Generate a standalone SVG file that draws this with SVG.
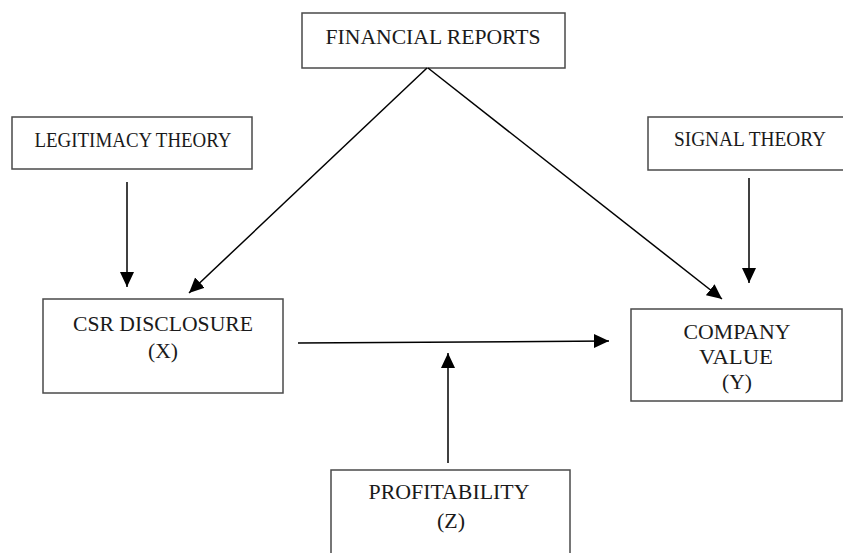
<svg xmlns="http://www.w3.org/2000/svg" width="843" height="553" viewBox="0 0 843 553">
<style>
.box{fill:#fff;stroke:#4a4a4a;stroke-width:1.5}
.t{font-family:"Liberation Serif","Times New Roman",serif;font-size:22px;fill:#1a1a1a;text-anchor:middle}
.c{stroke:#000;stroke-width:1.5;fill:none;marker-end:url(#ah)}
</style>
<defs>
<marker id="ah" markerUnits="userSpaceOnUse" markerWidth="16" markerHeight="15" refX="15" refY="7" orient="auto">
<path d="M0,0 L15,7 L0,14 z" fill="#000"/>
</marker>
</defs>
<rect width="843" height="553" fill="#fff"/>
<g id="financial-reports">
<rect class="box" x="302" y="13" width="263" height="55"/>
<text class="t" x="433" y="44" textLength="215" lengthAdjust="spacingAndGlyphs">FINANCIAL REPORTS</text>
</g>
<g id="legitimacy-theory">
<rect class="box" x="12" y="117" width="240" height="52"/>
<text class="t" x="133" y="147" textLength="197" lengthAdjust="spacingAndGlyphs">LEGITIMACY THEORY</text>
</g>
<g id="signal-theory">
<rect class="box" x="648" y="117" width="196" height="53"/>
<text class="t" transform="translate(750,146) scale(0.88,1)" x="0" y="0">SIGNAL THEORY</text>
</g>
<g id="csr-disclosure">
<rect class="box" x="43" y="299" width="240" height="94"/>
<text class="t" x="163" y="331" textLength="180" lengthAdjust="spacingAndGlyphs">CSR DISCLOSURE</text>
<text class="t" x="163" y="358" textLength="30" lengthAdjust="spacingAndGlyphs">(X)</text>
</g>
<g id="company-value">
<rect class="box" x="631" y="309" width="211" height="92"/>
<text class="t" x="737" y="339" textLength="107" lengthAdjust="spacingAndGlyphs">COMPANY</text>
<text class="t" x="736" y="364" textLength="74" lengthAdjust="spacingAndGlyphs">VALUE</text>
<text class="t" x="737" y="389" textLength="30" lengthAdjust="spacingAndGlyphs">(Y)</text>
</g>
<g id="profitability">
<rect class="box" x="331" y="470" width="239" height="100"/>
<text class="t" x="449" y="499" textLength="161" lengthAdjust="spacingAndGlyphs">PROFITABILITY</text>
<text class="t" x="451" y="528" textLength="28" lengthAdjust="spacingAndGlyphs">(Z)</text>
</g>
<g id="connectors">
<line class="c" x1="127" y1="182" x2="127" y2="287"/>
<line class="c" x1="427" y1="68" x2="189" y2="293"/>
<line class="c" x1="428" y1="68" x2="722" y2="299"/>
<line class="c" x1="749" y1="178" x2="749" y2="283"/>
<line class="c" x1="298" y1="343" x2="609" y2="341"/>
<line class="c" x1="448" y1="463" x2="448" y2="353"/>
</g>
</svg>
